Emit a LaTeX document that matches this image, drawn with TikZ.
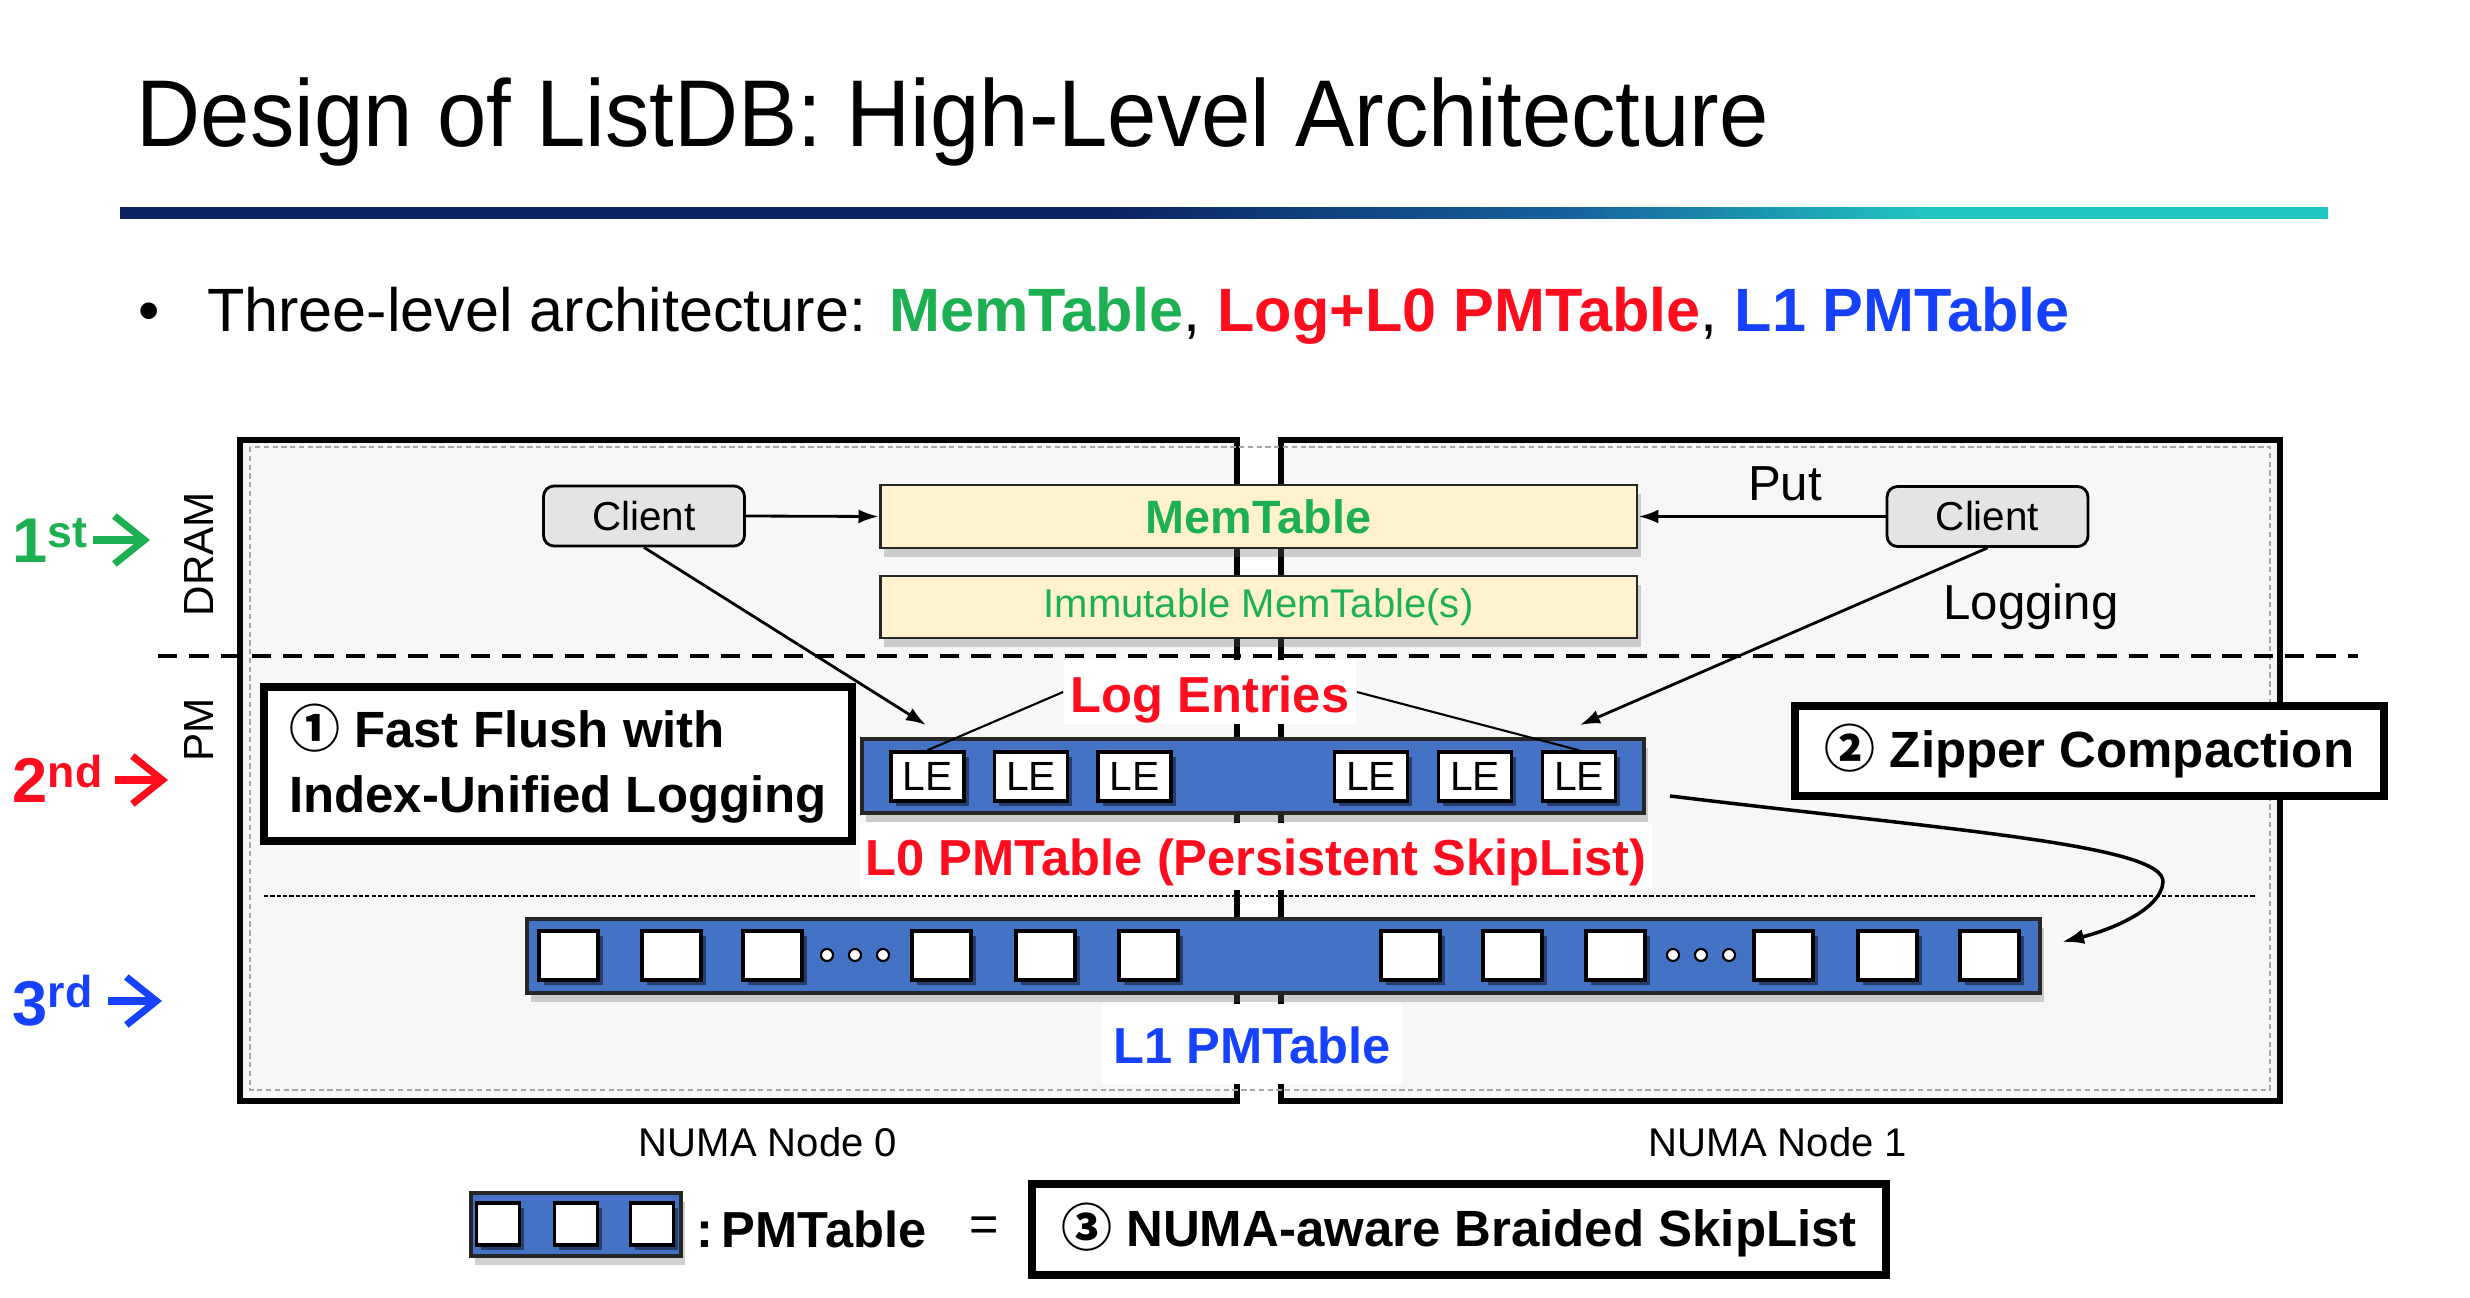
\documentclass[tikz,border=0pt]{standalone}
\usepackage{fontspec}
\setmainfont{Liberation Sans}
\newfontfamily\cjk{Noto Sans CJK SC}
\usetikzlibrary{arrows.meta,shadows}
\definecolor{cgreen}{HTML}{1DB052}
\definecolor{cred}{HTML}{FF0D1F}
\definecolor{cblue}{HTML}{1541FF}
\definecolor{pmblue}{HTML}{4472C4}
\definecolor{cream}{HTML}{FFF2CC}
\definecolor{bggray}{HTML}{F7F7F7}
\definecolor{clientgray}{HTML}{E4E4E4}
\definecolor{titlenavy}{HTML}{0B2161}
\definecolor{titlemid}{HTML}{16649F}
\definecolor{titleteal}{HTML}{21C5C0}
\pgfdeclarehorizontalshading{titleline}{100bp}{color(0bp)=(titlenavy); color(47bp)=(titlenavy); color(58bp)=(titlemid); color(66bp)=(titleteal); color(100bp)=(titleteal)}
\tikzset{
  frame/.style={draw=black, line width=1.7pt, fill=bggray},
  client/.style={draw=black, line width=0.8pt, fill=clientgray, rounded corners=3pt,
    minimum width=20.1mm, minimum height=6mm, inner sep=0pt, font=\fontsize{11.5}{12}\selectfont},
  memtab/.style={draw=black!85, line width=0.85pt, fill=cream, minimum width=75.7mm, inner sep=0pt,
    drop shadow={shadow xshift=1.2pt, shadow yshift=-2.5pt, opacity=0.3, fill=black!60}},
  pmbar/.style={draw=black!85, line width=0.9pt, fill=pmblue, inner sep=0pt,
    drop shadow={shadow xshift=1.2pt, shadow yshift=-2.5pt, opacity=0.3, fill=black!60}},
  lebox/.style={draw=black, line width=1pt, fill=white, minimum width=7.3mm, minimum height=4.9mm,
    inner sep=0pt, font=\fontsize{11.6}{12}\selectfont,
    drop shadow={shadow xshift=1.3pt, shadow yshift=-1.3pt, opacity=0.45, fill=black}},
  sqbox/.style={draw=black, line width=1pt, fill=white, minimum width=5.9mm, minimum height=4.9mm,
    inner sep=0pt, drop shadow={shadow xshift=1.3pt, shadow yshift=-1.3pt, opacity=0.45, fill=black}},
  dotc/.style={circle, draw=black, fill=white, line width=0.6pt, minimum size=1.2mm, inner sep=0pt},
  thickbox/.style={draw=black, line width=2.2pt, fill=white, inner sep=0pt,
    font=\bfseries\fontsize{14.5}{18.5}\selectfont},
  lbl/.style={fill=white, inner ysep=0pt, font=\bfseries\fontsize{14.4}{15}\selectfont},
  conn/.style={line width=0.8pt, -{Latex[length=2mm,width=1.4mm]}},
  thinline/.style={line width=0.6pt},
  lvl/.style={anchor=base west, inner sep=0pt, font=\bfseries\fontsize{18}{20}\selectfont},
  lvlarr/.style={line width=2pt, -{Straight Barb[length=3mm,width=4.8mm]}},
}
\begin{document}
\begin{tikzpicture}[x=0.1mm,y=-0.1mm]
\useasboundingbox (0,0) rectangle (2470,1298);
\fill[white] (0,0) rectangle (2470,1298);

% title
\node[anchor=base west, inner sep=0pt, font=\fontsize{27}{30}\selectfont] (title) at (136,147)
  {\scalebox{0.935}[1]{Design of ListDB: High-Level Architecture}};
\shade[shading=titleline] (120,208) rectangle (2328,219);

% bullet
\node[anchor=base west, inner sep=0pt, font=\fontsize{17.4}{20}\selectfont] (bullet) at (138,332)
  {•\hspace{4.7mm}Three-level architecture: {\bfseries\color{cgreen}MemTable}, {\bfseries\color{cred}Log+L0 PMTable}, {\bfseries\color{cblue}L1 PMTable}};

% frames
\draw[frame] (240,440) rectangle (1237,1101);
\draw[frame] (1281,440) rectangle (2280,1101);
\draw[draw=black!35, line width=0.4pt, dash pattern=on 1.5pt off 1pt] (250,447) rectangle (2270,1090);

% separators
\draw[line width=1.1pt, dash pattern=on 5.5pt off 3.4pt] (158,656) -- (2358,656);
\draw[line width=0.6pt, dash pattern=on 1.2pt off 0.6pt] (264,896) -- (2255,896);

% side labels
\node[rotate=90, font=\fontsize{12}{12}\selectfont] (dram) at (199,554) {DRAM};
\node[rotate=90, font=\fontsize{12}{12}\selectfont] (pm) at (199,730) {PM};

\node[lvl, text=cgreen] (lv1) at (12,563) {1\raisebox{1.6mm}{\fontsize{12.7}{13}\selectfont st}};
\node[lvl, text=cred] (lv2) at (12,803) {2\raisebox{1.6mm}{\fontsize{12.7}{13}\selectfont nd}};
\node[lvl, text=cblue] (lv3) at (12,1025) {3\raisebox{1.8mm}{\fontsize{12.7}{13}\selectfont rd}};
\coordinate (a1s) at (93,540);  \coordinate (a1e) at (150,540);
\coordinate (a2s) at (115,780); \coordinate (a2e) at (168,780);
\coordinate (a3s) at (108,1001); \coordinate (a3e) at (162,1001);
\draw[lvlarr, cgreen] (a1s) -- (a1e);
\draw[lvlarr, cred] (a2s) -- (a2e);
\draw[lvlarr, cblue] (a3s) -- (a3e);

% DRAM level
\node[client] (clientL) at (644,516) {Client};
\node[client] (clientR) at (1987.5,516.5) {Client};
\node[memtab, minimum height=6.3mm, text=cgreen, font=\bfseries\fontsize{13.3}{14}\selectfont] (mem) at (1258.5,516.5) {MemTable};
\node[memtab, minimum height=6.2mm, text=cgreen, font=\fontsize{11.4}{12}\selectfont] (imm) at (1258.5,607) {Immutable MemTable(s)};
\node[anchor=base, inner sep=0pt, font=\fontsize{14}{14}\selectfont] (put) at (1785,500) {Put};
\node[anchor=base, inner sep=0pt, font=\fontsize{14}{14}\selectfont] (logging) at (2031,620) {Logging};

\draw[conn] (clientL.east) -- (mem.west);
\draw[conn] (clientR.west) -- (mem.east);

% L0
\node[pmbar, minimum width=78.2mm, minimum height=7.4mm] (l0) at (1253,776) {};
\foreach \x [count=\i] in {927.5,1031,1134.5,1371,1475,1579}
  \node[lebox] (le\i) at (\x,776.5) {LE};

\coordinate (tipL) at (926,725);
\coordinate (tipR) at (1580,725);
\draw[conn] (clientL.south) -- (tipL);
\draw[conn] (clientR.south) -- (tipR);

\node[lbl, text=cred, anchor=base, inner xsep=0.7mm, text height=5.2mm, text depth=1.2mm] (logent) at (1210,712) {Log Entries};
\draw[thinline] (logent.west) -- (le1.north);
\draw[thinline] (logent.east) -- (le6.north);

\node[lbl, text=cred, anchor=base, inner xsep=0.6mm, text height=5.2mm, text depth=1.5mm] (l0lbl) at (1256,875) {L0 PMTable (Persistent SkipList)};

% boxes
\node[thickbox, minimum width=58.8mm, minimum height=15.4mm, align=left] (ff) at (558,764)
  {{\cjk ①} Fast Flush with\\Index-Unified Logging};
\node[thickbox, minimum width=58.9mm, minimum height=9mm] (zip) at (2089.5,751)
  {{\cjk ②} Zipper Compaction};

% L1
\node[pmbar, minimum width=151.3mm, minimum height=7.4mm] (l1) at (1283.5,956) {};
\foreach \x [count=\i] in {568.5,671.5,772.5,941.5,1045.5,1148.5,1410.5,1512.5,1615.5,1783.5,1887.5,1989.5}
  \node[sqbox] (sq\i) at (\x,955.5) {};
\foreach \x [count=\i] in {827,855,883,1673,1701,1729}
  \node[dotc] (dot\i) at (\x,955) {};

\node[lbl, text=cblue, anchor=base, inner xsep=1.1mm, text height=5.9mm, text depth=2.1mm] (l1lbl) at (1252,1063) {L1 PMTable};

% compaction curve
\coordinate (cstart) at (1670,796);
\coordinate (cend) at (2062,942);
\draw[line width=1pt, -{Latex[length=2.2mm,width=1.5mm]}] (cstart) .. controls (1950,830) and (2165,845) .. (2163,882) .. controls (2161,910) and (2110,930) .. (cend);

% NUMA labels
\node[anchor=base, inner sep=0pt, font=\fontsize{11.4}{12}\selectfont] (numa0) at (768,1156) {NUMA Node 0};
\node[anchor=base, inner sep=0pt, font=\fontsize{11.4}{12}\selectfont] (numa1) at (1778,1156) {NUMA Node 1};

% legend
\node[pmbar, line width=1.2pt, minimum width=21mm, minimum height=6.3mm] (leg) at (576,1224.5) {};
\foreach \x [count=\i] in {498,576,652}
  \node[sqbox, minimum width=4.3mm, minimum height=4.2mm] (lsq\i) at (\x,1224) {};
\node[anchor=base west, inner sep=0pt, font=\bfseries\fontsize{14.4}{15}\selectfont] (legtxt) at (696,1247) {:\,PMTable};
\node[inner sep=0pt, font=\fontsize{14.3}{15}\selectfont] (eq) at (984,1229) {=};
\node[thickbox, minimum width=85.4mm, minimum height=9.1mm] (braid) at (1459,1229.5)
  {{\cjk ③} NUMA-aware Braided SkipList};
\end{tikzpicture}
\end{document}
